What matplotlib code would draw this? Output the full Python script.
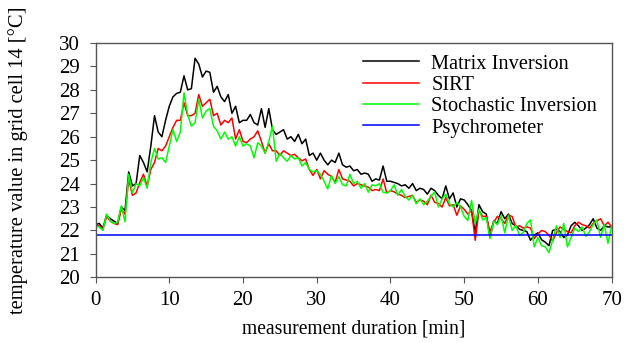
import numpy as np
import matplotlib
matplotlib.use("Agg")
import matplotlib.pyplot as plt

plt.rcParams['font.family'] = ['Liberation Serif', 'DejaVu Serif']
plt.rcParams['mathtext.fontset'] = 'stix'

# sampling time grid [min]
time_min = np.arange(0, 70.01, 0.5)

matrix_inversion = [
    22.25, 22.3, 22.1, 22.65, 22.5, 22.4, 22.3, 23.0, 22.85, 24.5,
    23.9, 24.0, 25.2, 24.9, 24.5, 25.6, 26.9, 26.2, 26.0, 26.7,
    27.3, 27.7, 27.85, 27.9, 28.6, 28.0, 28.05, 29.35, 29.1, 28.55,
    28.8, 28.75, 27.9, 28.15, 27.7, 27.5, 27.8, 27.0, 27.3, 26.6,
    26.7, 26.7, 26.95, 26.6, 26.5, 27.2, 26.4, 27.2, 26.3, 26.1,
    26.2, 26.3, 25.9, 26.0, 25.8, 26.1, 25.7, 25.9, 25.2, 25.3,
    25.0, 25.3, 25.0, 24.8, 25.0, 24.9, 25.3, 24.8, 24.7, 24.75,
    24.55, 24.6, 24.4, 24.45, 24.4, 24.1, 24.2, 24.15, 24.75, 24.1,
    24.1, 24.05, 24.0, 23.9, 23.95, 23.8, 24.0, 23.7, 23.8, 23.75,
    23.55, 23.8, 23.7, 23.5, 23.35, 23.9, 23.35, 23.6, 23.0, 23.35,
    23.3, 23.1, 22.85, 21.9, 23.1, 22.8, 22.7, 21.7, 22.4, 22.3,
    22.8, 22.5, 22.7, 22.3, 22.2, 22.05, 22.0, 21.95, 21.58, 21.8,
    21.9, 21.6, 21.5, 21.35, 22.0, 22.05, 21.95, 21.7, 21.8, 22.2,
    22.35, 22.2, 22.0, 22.1, 22.25, 22.5, 22.1, 22.0, 22.2, 22.15,
    22.15,
]

sirt = [
    22.2, 22.2, 22.05, 22.6, 22.4, 22.3, 22.25, 22.9, 22.7, 24.2,
    23.5, 23.6, 24.05, 24.4, 23.9, 24.6, 24.9, 25.5, 25.4, 25.6,
    26.0, 26.4, 26.7, 26.7, 27.45, 26.9, 26.9, 27.0, 27.8, 27.3,
    27.45, 27.6, 26.9, 27.0, 26.5, 26.7, 26.6, 26.8, 25.9, 26.3,
    25.8, 25.75, 25.9, 26.0, 26.25, 25.8, 25.3, 25.7, 25.4, 25.4,
    25.2, 25.4, 25.3, 25.2, 25.25, 25.1, 24.97, 25.05, 24.6, 24.35,
    24.6, 24.2, 24.55, 24.4, 24.3, 24.05, 24.6, 24.2, 24.15, 24.1,
    23.9, 24.0, 23.95, 23.9, 23.85, 23.7, 23.75, 23.7, 24.2, 23.6,
    23.7, 23.65, 23.55, 23.5, 23.4, 23.45, 23.5, 23.2, 23.3, 23.25,
    23.1, 23.5, 23.2, 23.15, 23.0, 23.4, 23.05, 23.1, 22.65, 23.05,
    22.9, 22.7, 22.85, 21.58, 22.85, 22.6, 22.6, 21.95, 22.35, 22.6,
    22.5, 22.3, 22.65, 22.6, 22.15, 22.2, 22.1, 22.15, 22.1, 21.65,
    21.85, 22.0, 21.95, 21.8, 21.55, 21.9, 22.15, 22.05, 21.95, 21.9,
    22.2, 22.35, 22.25, 22.2, 22.1, 22.3, 22.4, 22.5, 22.2, 22.35,
    22.15,
]

stochastic_inversion = [
    22.2, 22.15, 22.0, 22.7, 22.4, 22.3, 22.35, 23.05, 22.37, 24.4,
    23.6, 24.0, 23.9, 24.25, 23.8, 24.9, 25.5, 25.05, 25.1, 24.9,
    25.6, 26.3, 25.8, 26.2, 27.87, 26.95, 26.45, 26.6, 27.6, 26.8,
    27.1, 27.2, 26.45, 26.25, 25.9, 26.2, 25.9, 26.0, 25.6, 26.0,
    25.6, 25.7, 25.6, 25.1, 25.75, 25.6, 25.3, 25.8, 26.45, 24.95,
    25.3, 25.1, 24.95, 25.2, 25.05, 25.1, 24.75, 24.9, 24.6, 24.5,
    24.55, 24.4, 24.1, 23.77, 24.35, 24.0, 24.3, 23.95, 23.9, 24.4,
    24.0, 24.1, 23.8, 24.0, 23.63, 23.95, 23.9, 24.0, 23.63, 23.6,
    23.7, 23.95, 23.5, 23.75, 23.45, 23.3, 23.5, 23.14, 23.35, 23.1,
    23.25, 23.45, 23.65, 23.0, 23.35, 23.55, 23.14, 23.0, 23.2, 23.0,
    22.6, 22.43, 23.28, 22.3, 22.9, 22.45, 22.55, 21.65, 22.4, 22.25,
    22.64, 21.9, 22.64, 22.0, 22.22, 21.79, 21.9, 22.3, 22.45, 21.3,
    21.7, 21.35, 21.3, 21.05, 21.6, 22.2, 21.7, 22.3, 21.3, 21.7,
    22.1, 21.95, 22.15, 21.75, 21.95, 22.25, 22.45, 21.7, 22.25, 21.45,
    22.2,
]

psych_time = [0, 70]
psychrometer = [21.82, 21.82]

labels = ["Matrix Inversion", "SIRT", "Stochastic Inversion", "Psychrometer"]
colors = ["#000000", "#ff0000", "#00ff00", "#0000ff"]

x_ticks = [0, 10, 20, 30, 40, 50, 60, 70]
y_ticks = [20, 21, 22, 23, 24, 25, 26, 27, 28, 29, 30]

fig = plt.figure(figsize=(6.26, 3.43), dpi=100)
ax = fig.add_axes([0.1526, 0.1915, 0.9771 - 0.1526, 0.8746 - 0.1915])

lw = 1.1
ax.plot(time_min, matrix_inversion, color=colors[0], lw=lw, label=labels[0])
ax.plot(time_min, sirt, color=colors[1], lw=lw, label=labels[1])
ax.plot(time_min, stochastic_inversion, color=colors[2], lw=lw, label=labels[2])
ax.plot(psych_time, psychrometer, color=colors[3], lw=lw, label=labels[3])

ax.set_xlim(0, 70)
ax.set_ylim(20, 30)
ax.set_xticks(x_ticks)
ax.set_yticks(y_ticks)
ax.tick_params(direction='out', length=4, width=0.8, labelsize=15, color='#555555')
ax.tick_params(axis='y', pad=7)
ax.tick_params(axis='x', pad=6)
for s in ax.spines.values():
    s.set_color('#555555')
    s.set_linewidth(1.0)

ax.set_xlabel("measurement duration [min]", fontsize=14.1)
ax.set_ylabel("temperature value in grid cell 14 [°C]", fontsize=14.8)
ax.xaxis.set_label_coords(0.5, -0.18)
ax.yaxis.set_label_coords(-0.13, 0.5)

ax.legend(loc='upper left', bbox_to_anchor=(0.496, 1.0), frameon=False,
          fontsize=14.7, handlelength=2.75, handletextpad=0.6, labelspacing=0.1,
          borderaxespad=0.15)

fig.savefig("out.png", dpi=100)
